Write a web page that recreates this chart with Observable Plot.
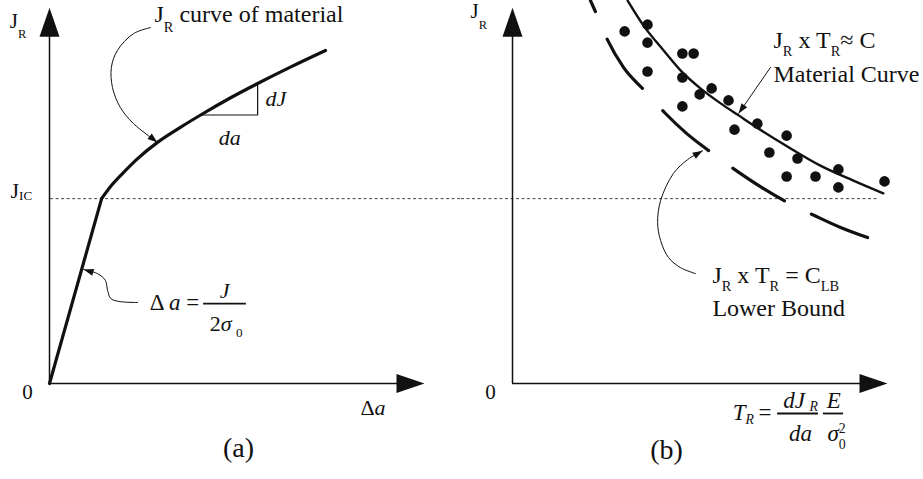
<!DOCTYPE html>
<html><head><meta charset="utf-8">
<script src="https://cdn.jsdelivr.net/npm/d3@7"></script>
<script src="https://cdn.jsdelivr.net/npm/@observablehq/plot@0.6"></script>
<style>
html,body{margin:0;padding:0;background:#fff;}
#chart{display:flex;width:923px;height:479px;overflow:hidden;}
#chart svg{display:block;overflow:visible;flex:none;max-width:none;}
</style></head><body><div id="chart"></div>
<script>
// ---------- Panel (a): J_R vs Δa ----------
const deltaA = [0, 13.9, 16.5, 19.2, 23.2, 28.8, 34.9, 40.3, 48.3, 55.5, 64.5, 73.6];
const jRa    = [0, 49.3, 52.8, 55.7, 59.7, 64.3, 68.3, 71.6, 76.2, 80.0, 84.5, 88.8];
const J_IC = 49.3;

// ---------- Panel (b): J_R vs T_R ----------
const tMaterial = [30.7, 34.9, 40.3, 44.8, 50.1, 55.5, 60.3, 64.8, 73.3, 82.1, 90.9, 98.9];
const jMaterial = [102.1, 95.5, 88.8, 83.5, 78.7, 74.7, 71.5, 68.5, 63.2, 58.1, 54.1, 50.7];
const tLower = [20.8, 22.1, 25.3, 29.6, 35.2, 40.8, 46.4, 52.3, 58.9, 66.1, 73.3, 80.5, 87.5, 94.7];
const jLower = [102.1, 99.2, 91.7, 84.3, 78.1, 72.0, 66.7, 62.1, 57.3, 52.5, 48.3, 44.8, 41.6, 38.9];
const tPoints = [29.9, 36.0, 36.0, 45.3, 48.3, 36.0, 45.3, 49.9, 53.1, 57.6, 45.3, 59.2, 65.3, 73.1, 68.5, 76.0, 73.1, 80.8, 86.9, 86.9, 99.2];
const jPoints = [93.9, 95.7, 90.9, 88.0, 88.0, 83.2, 81.6, 77.1, 78.7, 75.5, 73.9, 67.7, 69.3, 66.1, 61.6, 60.0, 55.2, 55.2, 57.1, 52.3, 53.9];

// ---------- Leader (callout) paths ----------
const leadA1x = [26.9, 22.4, 18.1, 16.5, 16.8, 18.9, 22.4, 28.8];
const leadA1y = [94.9, 93.3, 88.8, 84.3, 78.9, 73.6, 69.3, 64.3];
const leadA2x = [23.5, 18.4, 16.3, 15.5, 14.9, 12.8, 9.1];
const leadA2y = [21.6, 21.9, 22.7, 24.8, 27.5, 29.3, 30.4];
const leadB1x = [48.8, 44.8, 41.6, 39.5, 38.7, 39.5, 42.9, 46.7, 50.7];
const leadB1y = [29.3, 30.9, 33.6, 38.1, 42.9, 48.8, 56.0, 59.7, 62.1];
const leadB2x = [68.8, 60.3];
const leadB2y = [84.3, 72.0];

const FONT = "Liberation Serif";
const INK = "#111";
const zip = (xs, ys) => xs.map((x, i) => ({x, y: ys[i]}));

function headSym(deg, len, hw) {
  const a = deg * Math.PI / 180, ux = Math.cos(a), uy = Math.sin(a);
  return {draw(ctx) {
    ctx.moveTo(0, 0);
    ctx.lineTo(-len * ux - hw * uy, -len * uy + hw * ux);
    ctx.lineTo(-len * ux + hw * uy, -len * uy - hw * ux);
    ctx.closePath();
  }};
}
function head(x, y, deg, len, hw) {
  return Plot.dot([{x, y}], {x: "x", y: "y", symbol: headSym(deg, len, hw), fill: INK, stroke: "none"});
}
function leader(xs, ys, curve = "catmull-rom") {
  const pts = zip(xs, ys);
  const p1 = pts[pts.length - 1], p0 = pts[pts.length - 2];
  const deg = Math.atan2(-(p1.y - p0.y), p1.x - p0.x) * 180 / Math.PI;
  return [
    Plot.line(pts, {x: "x", y: "y", curve, stroke: INK, strokeWidth: 1}),
    head(p1.x, p1.y, deg, 10, 3.5)
  ];
}
function label(x, y, text, o = {}) {
  return Plot.text([{x, y, text}], {x: "x", y: "y", text: "text", textAnchor: "start", lineAnchor: "bottom", fontSize: 22, fill: INK, ...o});
}
function bar(y, x1, x2) {
  return Plot.ruleY([y], {x1, x2, stroke: INK, strokeWidth: 1.8});
}
function axes() {
  return [
    Plot.ruleX([0], {y1: 0, y2: 95, stroke: INK, strokeWidth: 1.5}),
    Plot.ruleY([0], {x1: 0, x2: 95, stroke: INK, strokeWidth: 1.5}),
    head(0, 100.2, -90, 29, 10),
    head(100, 0, 0, 28, 9.5)
  ];
}

const common = {
  height: 479,
  y: {domain: [0, 100], range: [383, 8], axis: null},
  style: {fontFamily: FONT, background: "white", overflow: "visible"}
};

const plotA = Plot.plot({
  ...common,
  width: 461,
  x: {domain: [0, 100], range: [49, 424], axis: null},
  marks: [
    Plot.ruleY([J_IC], {x1: 0.3, x2: 110, stroke: "#444", strokeWidth: 1, strokeDasharray: "3,2.5"}),
    ...axes(),
    Plot.line(zip(deltaA.slice(0, 2), jRa.slice(0, 2)), {x: "x", y: "y", stroke: INK, strokeWidth: 3.2, strokeLinecap: "round"}),
    Plot.line(zip(deltaA.slice(1), jRa.slice(1)), {x: "x", y: "y", curve: "monotone-x", stroke: INK, strokeWidth: 3.2}),
    Plot.line([{x: deltaA[7], y: jRa[7]}, {x: deltaA[9], y: jRa[7]}, {x: deltaA[9], y: jRa[9]}], {x: "x", y: "y", stroke: INK, strokeWidth: 1.2}),
    ...leader(leadA1x, leadA1y),
    ...leader(leadA2x, leadA2y),
    label(-10.6, 94.9, "J_10{R}", {fontSize: 21}),
    label(-10.4, 49.6, "J_2{IC}", {fontSize: 22}),
    label(-5.9, -4.0, "0", {fontSize: 21, textAnchor: "middle"}),
    label(82.9, -8.5, "Δ*a*", {fontSize: 22}),
    label(28.0, 96.3, "J_10{R} curve of material", {fontSize: 24}),
    label(57.6, 73.9, "dJ", {fontSize: 22, fontStyle: "italic"}),
    label(45.1, 63.5, "da", {fontSize: 22, fontStyle: "italic"}),
    label(26.7, 19.5, "Δ *a* =", {fontSize: 23}),
    bar(21.3, 41.1, 52.5),
    label(46.7, 22.9, "J", {fontSize: 22, fontStyle: "italic", textAnchor: "middle"}),
    label(47.1, 14.1, "2*σ*\u2009_6{0}", {fontSize: 22, textAnchor: "middle"}),
    label(50.4, -19.7, "(a)", {fontSize: 28, textAnchor: "middle"})
  ]
});

const plotB = Plot.plot({
  ...common,
  width: 462,
  x: {domain: [0, 100], range: [51, 426], axis: null},
  marks: [
    Plot.ruleY([J_IC], {x1: -13.6, x2: 97.6, stroke: "#444", strokeWidth: 1, strokeDasharray: "3,2.5"}),
    ...axes(),
    Plot.line(zip(tLower, jLower), {x: "x", y: "y", curve: "monotone-x", stroke: INK, strokeWidth: 3.2, strokeDasharray: "61,30", strokeDashoffset: 49}),
    Plot.line(zip(tMaterial, jMaterial), {x: "x", y: "y", curve: "monotone-x", stroke: INK, strokeWidth: 2.4}),
    Plot.dot(zip(tPoints, jPoints), {x: "x", y: "y", r: 5.3, fill: INK, stroke: "none"}),
    ...leader(leadB1x, leadB1y),
    ...leader(leadB2x, leadB2y, "linear"),
    label(-11.2, 97.6, "J_11{R}", {fontSize: 21}),
    label(-5.9, -4.0, "0", {fontSize: 21, textAnchor: "middle"}),
    label(69.6, 89.6, "J_8{R} x T_8{R}≈ C", {fontSize: 24}),
    label(69.6, 80.3, "Material Curve", {fontSize: 24}),
    label(53.3, 26.9, "J_8{R} x T_8{R} = C_8{LB}", {fontSize: 24}),
    label(53.3, 18.1, "Lower Bound", {fontSize: 24}),
    label(58.7, -9.6, "*T*_4{*R*}\u2009=", {fontSize: 23}),
    bar(-8.0, 70.7, 81.6),
    label(76.8, -6.5, "*dJ*\u2009_3{*R*}", {fontSize: 23, textAnchor: "middle"}),
    label(76.8, -15.2, "da", {fontSize: 23, fontStyle: "italic", textAnchor: "middle"}),
    bar(-8.0, 82.9, 88.3),
    label(85.7, -6.5, "E", {fontSize: 23, fontStyle: "italic", textAnchor: "middle"}),
    label(86.4, -15.2, "*σ*_8{0}^8{2}", {fontSize: 23, textAnchor: "middle"}),
    label(41.1, -20.0, "(b)", {fontSize: 28, textAnchor: "middle"})
  ]
});

const chart = document.getElementById("chart");
chart.appendChild(plotA);
chart.appendChild(plotB);

// Render sub/superscripts and italics as real tspans.
const SVGNS = "http://www.w3.org/2000/svg";
function rich(svg) {
  svg.querySelectorAll("text").forEach(t => {
    const s = t.textContent;
    if (!/[_^*]/.test(s)) return;
    t.textContent = "";
    const re = /([_^])(\d+)?\{([^}]*)\}|\*([^*]+)\*|([^_^*]+)/g;
    let m, cur = 0, prevSub = null;
    while ((m = re.exec(s))) {
      const ts = document.createElementNS(SVGNS, "tspan");
      let off = 0, txt, italic = false;
      if (m[1]) {
        const k = m[2] != null ? +m[2] : 8;
        off = m[1] === "_" ? k : -k;
        txt = m[3];
        if (/^\*.*\*$/.test(txt)) { italic = true; txt = txt.slice(1, -1); }
        ts.setAttribute("font-size", "0.6em");
      } else if (m[4] != null) {
        txt = m[4]; italic = true;
      } else {
        txt = m[5];
      }
      if (off !== cur) ts.setAttribute("dy", off - cur);
      cur = off;
      if (italic) ts.setAttribute("font-style", "italic");
      ts.textContent = txt;
      t.appendChild(ts);
      if (m[1] === "^" && prevSub) ts.setAttribute("dx", -prevSub.getComputedTextLength());
      prevSub = m[1] === "_" ? ts : null;
    }
  });
}
rich(plotA);
rich(plotB);
</script></body></html>
